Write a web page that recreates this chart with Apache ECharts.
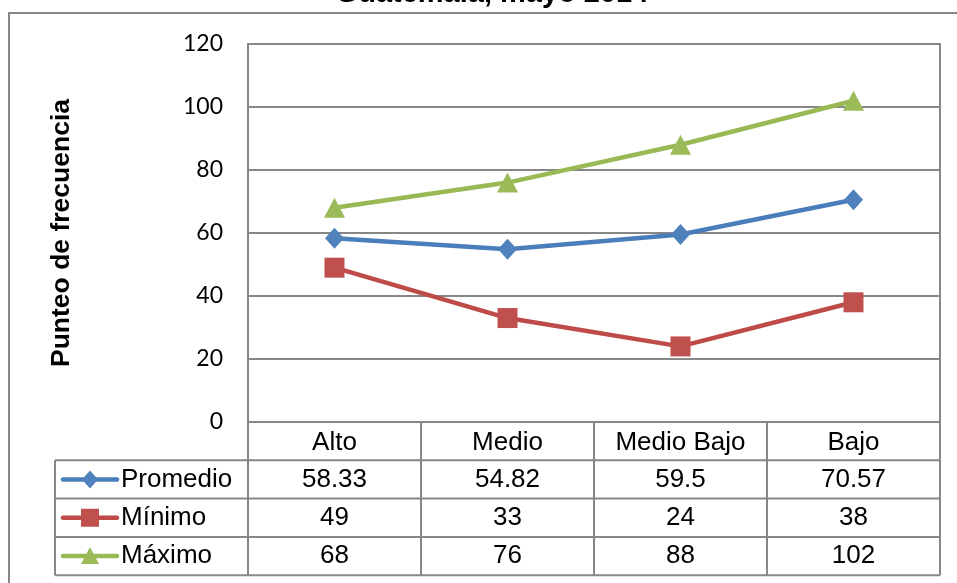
<!DOCTYPE html>
<html>
<head>
<meta charset="utf-8">
<script src="https://cdn.jsdelivr.net/npm/echarts@6/dist/echarts.min.js"></script>
<style>
  html, body { margin: 0; padding: 0; background: #fff; }
  #chart { width: 957px; height: 583px; }
</style>
</head>
<body>
<div id="chart"></div>
<script>
// Chart data
const titleText = 'Guatemala, mayo 2014';
const yAxisTitle = 'Punteo de frecuencia';
const categories = ['Alto', 'Medio', 'Medio Bajo', 'Bajo'];
const seriesNames = ['Promedio', 'Mínimo', 'Máximo'];
const promedio = [58.33, 54.82, 59.5, 70.57];
const minimo = [49, 33, 24, 38];
const maximo = [68, 76, 88, 102];
const yMin = 0, yMax = 120, yStep = 20;

const seriesValues = [promedio, minimo, maximo];
const lineColors = ['#4A7EBB', '#BE4B48', '#98B954'];
const markerColors = ['#4F81BD', '#C0504D', '#9BBB59'];
const markerSymbols = ['diamond', 'rect', 'triangle'];
const markerSizes = [[19, 21], [20, 20], [21, 20]];

const gray = '#878787';
const tableFont = '26px "Liberation Sans", Arial, sans-serif';

const chart = echarts.init(document.getElementById('chart'), null, { renderer: 'canvas' });

chart.setOption({
  animation: false,
  backgroundColor: '#fff',
  grid: {
    left: 248, right: 17, top: 44, bottom: 161,
    show: true, borderColor: gray, borderWidth: 2
  },
  xAxis: {
    type: 'category',
    data: categories,
    boundaryGap: true,
    axisLine: { show: true, lineStyle: { color: gray, width: 2 } },
    axisTick: { show: false },
    axisLabel: {
      margin: 8,
      color: '#000',
      fontFamily: '"Liberation Sans", Arial, sans-serif',
      fontSize: 26
    },
    splitLine: { show: false }
  },
  yAxis: {
    type: 'value',
    min: yMin, max: yMax, interval: yStep,
    name: yAxisTitle,
    nameLocation: 'middle',
    nameRotate: 90,
    nameGap: 173,
    nameTextStyle: {
      color: '#000',
      fontFamily: '"Liberation Sans", Arial, sans-serif',
      fontWeight: 'bold',
      fontSize: 26.5
    },
    axisLine: { show: true, lineStyle: { color: gray, width: 2 } },
    axisTick: { show: false },
    axisLabel: {
      margin: 25,
      color: '#000',
      fontFamily: 'Lato, "Open Sans", sans-serif',
      fontSize: 23
    },
    splitLine: { show: true, lineStyle: { color: gray, width: 2 } }
  },
  series: seriesNames.map((name, i) => ({
    name: name,
    type: 'line',
    data: seriesValues[i],
    symbol: markerSymbols[i],
    symbolSize: markerSizes[i],
    lineStyle: { color: lineColors[i], width: 4.5 },
    itemStyle: { color: markerColors[i], borderWidth: 0 },
    z: 3 + i
  }))
});

// Data table below the plot, aligned with the category axis
const cx = categories.map(c => chart.convertToPixel({ xAxisIndex: 0 }, c));
const band = cx[1] - cx[0];
const colLeft = cx[0] - band / 2;
const colRight = cx[cx.length - 1] + band / 2;
const yBase = chart.convertToPixel({ yAxisIndex: 0 }, yMin);
const rowH = 38.3;
const tableLeft = 55;
const tableBottom = yBase + rowH * (seriesNames.length + 1);

const graphics = [];

// outer chart frame
graphics.push({
  type: 'rect', z: 0,
  shape: { x: 9, y: 13, width: 1000, height: 700 },
  style: { fill: 'none', stroke: gray, lineWidth: 2 }
});

// title
graphics.push({
  type: 'text', z: 10,
  x: 492, y: 8,
  style: {
    text: titleText,
    font: 'bold 29px "Liberation Sans", Arial, sans-serif',
    fill: '#000',
    align: 'center', verticalAlign: 'bottom',
    textAlign: 'center', textVerticalAlign: 'bottom'
  }
});

function hline(x1, x2, y) {
  graphics.push({
    type: 'line', z: 5,
    shape: { x1: x1, y1: y, x2: x2, y2: y },
    style: { stroke: gray, lineWidth: 2 }
  });
}
function vline(x, y1, y2) {
  graphics.push({
    type: 'line', z: 5,
    shape: { x1: x, y1: y1, x2: x, y2: y2 },
    style: { stroke: gray, lineWidth: 2 }
  });
}

// horizontal rules of the table
for (let r = 1; r <= seriesNames.length + 1; r++) {
  hline(tableLeft, colRight, yBase + rowH * r);
}
// vertical rules
vline(tableLeft, yBase + rowH, tableBottom);
for (let c = 0; c <= categories.length; c++) {
  vline(colLeft + band * c, yBase, tableBottom);
}

// rows: legend key, series name, values
seriesNames.forEach((name, i) => {
  const yc = yBase + rowH * (i + 1.5);
  const keyX1 = tableLeft + 8, keyX2 = tableLeft + 62;
  const mx = (keyX1 + keyX2) / 2;
  graphics.push({
    type: 'line', z: 6,
    shape: { x1: keyX1, y1: yc, x2: keyX2, y2: yc },
    style: { stroke: lineColors[i], lineWidth: 4.5, lineCap: 'round' }
  });
  if (markerSymbols[i] === 'diamond') {
    graphics.push({
      type: 'polygon', z: 7,
      shape: { points: [[mx, yc - 9], [mx + 8, yc], [mx, yc + 9], [mx - 8, yc]] },
      style: { fill: markerColors[i] }
    });
  } else if (markerSymbols[i] === 'rect') {
    graphics.push({
      type: 'rect', z: 7,
      shape: { x: mx - 9, y: yc - 9, width: 18, height: 18 },
      style: { fill: markerColors[i] }
    });
  } else {
    graphics.push({
      type: 'polygon', z: 7,
      shape: { points: [[mx, yc - 9], [mx + 9, yc + 8], [mx - 9, yc + 8]] },
      style: { fill: markerColors[i] }
    });
  }
  graphics.push({
    type: 'text', z: 7,
    x: keyX2 + 4, y: yc,
    style: {
      text: name, font: tableFont, fill: '#000',
      align: 'left', verticalAlign: 'middle',
      textAlign: 'left', textVerticalAlign: 'middle'
    }
  });
  seriesValues[i].forEach((v, j) => {
    graphics.push({
      type: 'text', z: 7,
      x: cx[j], y: yc,
      style: {
        text: String(v), font: tableFont, fill: '#000',
        align: 'center', verticalAlign: 'middle',
        textAlign: 'center', textVerticalAlign: 'middle'
      }
    });
  });
});

chart.setOption({ graphic: graphics });
</script>
</body>
</html>
